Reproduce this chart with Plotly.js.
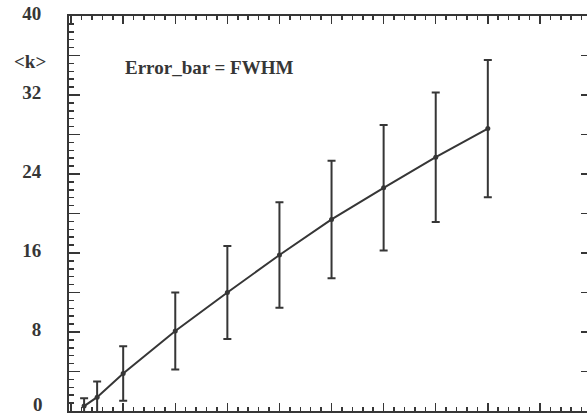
<!DOCTYPE html>
<html>
<head>
<meta charset="utf-8">
<script src="https://cdn.plot.ly/plotly-3.0.1.min.js"></script>
<style>
  html, body { margin: 0; padding: 0; background: #fff; overflow: hidden; }
  #chart { width: 600px; height: 430px; }
</style>
</head>
<body>
<div id="chart"></div>
<script>
// Mean <k> with FWHM error bars
const xValues = [0.25, 0.5, 1, 2, 3, 4, 5, 6, 7, 8];
const kMean   = [0.5, 1.4, 3.8, 8.1, 12.0, 15.8, 19.4, 22.6, 25.7, 28.6];
const kFwhm   = [0.8, 1.6, 2.75, 3.9, 4.7, 5.35, 5.95, 6.35, 6.55, 6.95];

const yTickVals  = [0, 4, 8, 12, 16, 20, 24, 28, 32, 36, 40];
const yTickText  = ['', '', '8', '', '16', '', '24', '', '32', '', '40'];

const ink = '#363636';
const serif = 'Liberation Serif, Times New Roman, serif';

const trace = {
  x: xValues,
  y: kMean,
  type: 'scatter',
  mode: 'lines+markers',
  line: { color: ink, width: 2 },
  marker: { color: ink, size: 5 },
  error_y: { type: 'data', array: kFwhm, visible: true, color: ink, thickness: 2, width: 4 },
  cliponaxis: true,
  showlegend: false
};

const layout = {
  width: 600,
  height: 430,
  margin: { l: 69, r: 8, t: 16, b: 19 },
  paper_bgcolor: '#fff',
  plot_bgcolor: '#fff',
  font: { family: serif, color: ink, size: 19, weight: 'bold' },
  xaxis: {
    range: [-0.04, 10],
    showgrid: false,
    zeroline: false,
    showline: true,
    linecolor: ink,
    linewidth: 2,
    mirror: 'allticks',
    ticks: 'inside',
    tickmode: 'linear',
    tick0: 0,
    dtick: 1,
    ticklen: 8,
    tickwidth: 1.5,
    tickcolor: ink,
    showticklabels: false,
    minor: { ticks: 'inside', dtick: 0.2, tick0: 0, ticklen: 4, tickwidth: 1.5, tickcolor: ink }
  },
  yaxis: {
    range: [0, 40],
    showgrid: false,
    zeroline: false,
    showline: true,
    linecolor: ink,
    linewidth: 2,
    mirror: 'allticks',
    ticks: 'inside',
    tickmode: 'array',
    tickvals: yTickVals,
    ticktext: yTickText,
    ticklen: 11,
    tickwidth: 1.5,
    tickcolor: ink,
    ticklabelstandoff: 22,
    ticklabelshift: -3,
    tickfont: { family: serif, size: 19, color: ink, weight: 'bold' },
    minor: { ticks: 'inside', dtick: 0.8, tick0: 0, ticklen: 5, tickwidth: 1.5, tickcolor: ink }
  },
  annotations: [
    {
      // zero label, kept just inside the bottom edge
      text: '0',
      xref: 'paper', yref: 'y',
      x: 0, y: 0,
      xanchor: 'right', yanchor: 'bottom',
      xshift: -24, yshift: -6,
      showarrow: false,
      font: { family: serif, size: 19, color: ink, weight: 'bold' }
    },
    {
      text: '&lt;k&gt;',
      xref: 'paper', yref: 'y',
      x: 0, y: 35.4,
      xanchor: 'right', yanchor: 'middle',
      xshift: -21,
      showarrow: false,
      font: { family: serif, size: 19, color: ink, weight: 'bold' }
    },
    {
      text: 'Error_bar = FWHM',
      xref: 'x', yref: 'y',
      x: 1.0, y: 34.8,
      xanchor: 'left', yanchor: 'middle',
      showarrow: false,
      font: { family: serif, size: 19, color: ink, weight: 'bold' }
    }
  ]
};

Plotly.newPlot('chart', [trace], layout, { displayModeBar: false, staticPlot: true });
</script>
</body>
</html>
